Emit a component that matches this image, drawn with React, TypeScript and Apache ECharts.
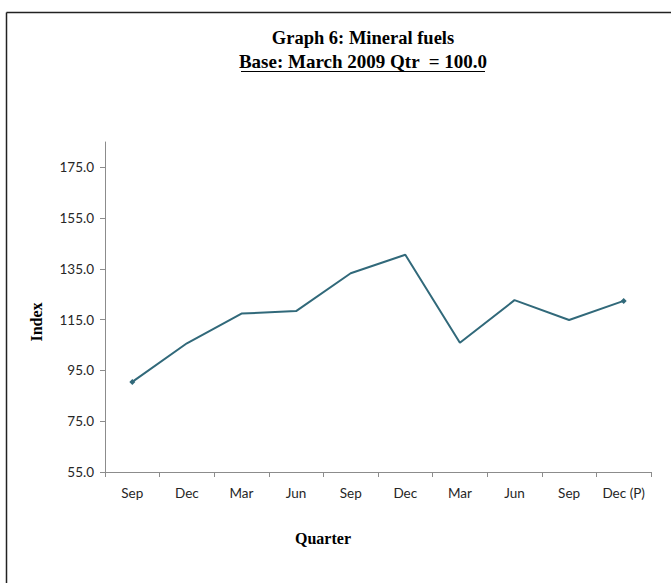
import React, { useEffect, useRef } from "react";
import * as echarts from "echarts";

const categories = ["Sep", "Dec", "Mar", "Jun", "Sep", "Dec", "Mar", "Jun", "Sep", "Dec (P)"];
const indexValues = [90.5, 105.7, 117.4, 118.4, 133.3, 140.6, 105.9, 122.7, 114.9, 122.4];
const yTicks = [55, 75, 95, 115, 135, 155, 175];
const titleText = "Graph 6: Mineral fuels";
const subtitleText = "Base: March 2009 Qtr  = 100.0";

export default function App() {
  const ref = useRef<HTMLDivElement>(null);
  useEffect(() => {
    if (!ref.current) return;
    const chart = echarts.init(ref.current, null, { renderer: "svg" });
    const n = indexValues.length;
    const serif = "'Liberation Serif', 'DejaVu Serif', serif";
    const sans = "Lato, 'Open Sans', sans-serif";
    chart.setOption({
      animation: false,
      backgroundColor: "#ffffff",
      grid: { left: 105, right: 20, top: 142, bottom: 111 },
      xAxis: {
        type: "category",
        data: categories,
        boundaryGap: true,
        axisLine: { lineStyle: { color: "#8c8c8c", width: 1 } },
        axisTick: { show: true, length: 5, interval: 0, lineStyle: { color: "#8c8c8c" }, alignWithLabel: false },
        axisLabel: { color: "#262626", fontSize: 13.5, fontFamily: sans, margin: 14, interval: 0 },
        splitLine: { show: false },
      },
      yAxis: {
        type: "value",
        min: 55,
        max: 185,
        interval: 20,
        axisLine: { show: true, lineStyle: { color: "#8c8c8c", width: 1 } },
        axisTick: { show: true, length: 5, lineStyle: { color: "#8c8c8c" }, customValues: yTicks },
        axisLabel: {
          color: "#262626",
          fontSize: 13.5,
          fontFamily: sans,
          margin: 11,
          customValues: yTicks,
          formatter: (v: number) => v.toFixed(1),
        },
        splitLine: { show: false },
      },
      series: [
        {
          type: "line",
          data: indexValues.map((v, i) => ({
            value: v,
            symbol: i === 0 || i === n - 1 ? "diamond" : "none",
          })),
          symbolSize: 6,
          showSymbol: true,
          lineStyle: { color: "#31697a", width: 2 },
          itemStyle: { color: "#31697a" },
          emphasis: { disabled: true },
        },
      ],
      graphic: [
        { type: "line", shape: { x1: 6.5, y1: 12.5, x2: 671, y2: 12.5 }, style: { stroke: "#222222", lineWidth: 1.5 } },
        { type: "line", shape: { x1: 6.5, y1: 12.5, x2: 6.5, y2: 583 }, style: { stroke: "#222222", lineWidth: 1.5 } },
        {
          type: "text",
          x: 363,
          y: 38,
          style: { text: titleText, fill: "#000", font: `bold 18.5px ${serif}`, align: "center", verticalAlign: "middle" },
        },
        {
          type: "text",
          x: 363,
          y: 61,
          style: { text: subtitleText, fill: "#000", font: `bold 19px ${serif}`, align: "center", verticalAlign: "middle" },
        },
        { type: "line", shape: { x1: 241, y1: 71.5, x2: 485, y2: 71.5 }, style: { stroke: "#000", lineWidth: 1.2 } },
        {
          type: "text",
          x: 36,
          y: 322,
          rotation: Math.PI / 2,
          style: { text: "Index", fill: "#000", font: `bold 16px ${serif}`, align: "center", verticalAlign: "middle" },
        },
        {
          type: "text",
          x: 323,
          y: 538,
          style: { text: "Quarter", fill: "#000", font: `bold 16px ${serif}`, align: "center", verticalAlign: "middle" },
        },
      ],
    });
    return () => chart.dispose();
  }, []);
  return <div ref={ref} style={{ position: "fixed", left: 0, top: 0, width: 671, height: 583 }} />;
}
